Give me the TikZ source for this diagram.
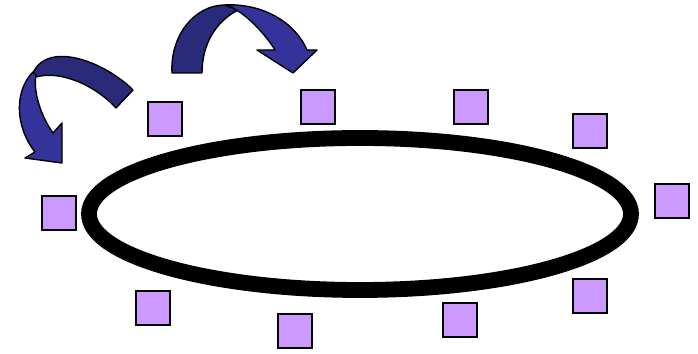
\documentclass[tikz,border=0pt]{standalone}
\definecolor{lilac}{RGB}{204,153,255}
\definecolor{ink}{RGB}{51,51,153}
\definecolor{inkdark}{RGB}{42,42,122}
\usepackage{tikz}

\begin{document}
\begin{tikzpicture}[x=0.02cm,y=-0.02cm,
  cell/.style={draw=black,line width=1.1pt,fill=lilac,minimum size=0.69cm,inner sep=0pt},
  ring/.style={line width=9pt},
  bent/.style={draw=black,line width=0.8pt,fill=ink,line join=round}]
  \useasboundingbox (0,0) rectangle (698,354);
  % the ring
  \draw[ring] (360,214) ellipse [x radius=271,y radius=76];
  % cells round the ring
  \node[cell] (c1) at (165,119) {};
  \node[cell] (c2) at (318,107) {};
  \node[cell] (c3) at (471,107) {};
  \node[cell] (c4) at (590,131) {};
  \node[cell] (c5) at (672,201) {};
  \node[cell] (c6) at (590,296) {};
  \node[cell] (c7) at (460,320) {};
  \node[cell] (c8) at (295,331) {};
  \node[cell] (c9) at (153,308) {};
  \node[cell] (c10) at (59,213) {};
  % arrow over the top
  \draw[bent,fill=inkdark] (172,73) .. controls (170,35) and (195,5) .. (225,5) -- (238,10)
    .. controls (215,22) and (202,45) .. (202,73) -- cycle;
  \draw[bent] (225,5) .. controls (262,3) and (295,22) .. (307,50) -- (317,50) -- (293,73)
    -- (257,50) -- (275,50) .. controls (268,38) and (245,10) .. (225,5) -- cycle;
  % arrow on the left
  \draw[bent,fill=inkdark] (116,108) -- (133,90) .. controls (105,62) and (48,40) .. (33,73)
    -- (36,77) .. controls (60,70) and (95,85) .. (116,108) -- cycle;
  \draw[bent] (33,72) .. controls (15,90) and (14,125) .. (35,152) -- (25,158) -- (62,163)
    -- (62,123) -- (53,133) .. controls (40,115) and (33,90) .. (36,75) -- cycle;
\end{tikzpicture}
\end{document}
